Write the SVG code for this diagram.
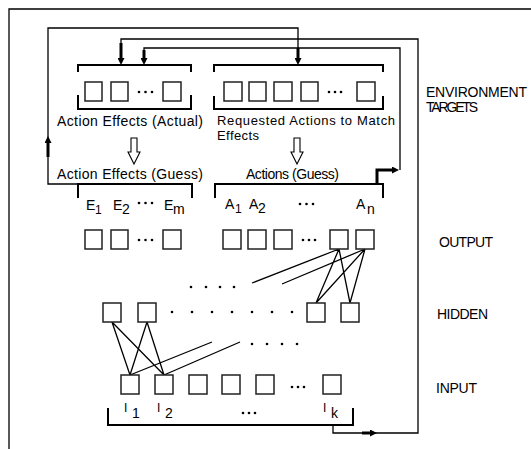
<svg xmlns="http://www.w3.org/2000/svg" width="531" height="449" viewBox="0 0 531 449">
<defs>
<marker id="ah" viewBox="0 0 10 10" refX="0" refY="5" markerWidth="8" markerHeight="7" markerUnits="userSpaceOnUse" orient="auto">
<path d="M0,0 L10,5 L0,10 z" fill="#000"/>
</marker>
<style>
.ln{fill:none;stroke:#000;stroke-width:1.3}
.br{fill:none;stroke:#000;stroke-width:2}
.th{fill:none;stroke:#000;stroke-width:3}
.bx{fill:#fff;stroke:#222;stroke-width:1.5}
.ha{fill:#fff;stroke:#000;stroke-width:1.1}
.dot{fill:#000}
text{font-family:"Liberation Sans",Arial,sans-serif;font-size:14px;fill:#000}
.sm{font-size:12px}
.rq{font-size:13px}
</style>
</defs>
<rect width="531" height="449" fill="#fff"/>
<path class="ln" d="M9,449 V9 H531" stroke="#333"/>

<g id="connectors">
<path class="ln" d="M78,184 H48 V28 H298 V50"/>
<path class="th" d="M48,157 V143" marker-end="url(#ah)"/>
<path class="th" d="M298,48 V58" marker-end="url(#ah)"/>
<path class="ln" d="M333,425 V433 H418 V39 H121 V45"/>
<path class="th" d="M121,43 V58" marker-end="url(#ah)"/>
<path class="th" d="M362,433 H370" marker-end="url(#ah)"/>
<path class="ln" d="M400,170 V48 H144 V50"/>
<path class="th" d="M377,184 V170 H392" marker-end="url(#ah)"/>
<path class="th" d="M144,50 V58" marker-end="url(#ah)"/>
<path class="ha" d="M131,138 H137 V152 H140 L134,164 L128,152 H131 Z"/>
<path class="ha" d="M294,138 H300 V152 H303 L297,164 L291,152 H294 Z"/>
<path class="ln" d="M339,249 L252,283 M365,249 L282,284 M339,249 L316,303 M339,249 L350,303 M365,249 L316,303 M365,249 L350,303"/>
<path class="ln" d="M112,322 L130,375 M112,322 L164,375 M147,322 L130,375 M147,322 L164,375 M130,375 L212,342 M164,375 L240,342"/>
</g>

<g id="actual-effects">
<path class="br" d="M78,72 V65 H191 V72 M78,95 V109 H191 V95"/>
<rect class="bx" x="85" y="82" width="17" height="19"/>
<rect class="bx" x="111" y="82" width="17" height="19"/>
<rect class="bx" x="163" y="82" width="18" height="19"/>
<circle class="dot" cx="139" cy="92" r="1.3"/><circle class="dot" cx="145.5" cy="92" r="1.3"/><circle class="dot" cx="152" cy="92" r="1.3"/>
<text x="57" y="126" textLength="146" lengthAdjust="spacing">Action Effects (Actual)</text>
</g>

<g id="requested-actions">
<path class="br" d="M214,72 V65 H383 V72 M214,96 V109 H383 V96"/>
<rect class="bx" x="224" y="82" width="18" height="19"/>
<rect class="bx" x="249" y="82" width="17" height="19"/>
<rect class="bx" x="274" y="82" width="18" height="19"/>
<rect class="bx" x="301" y="82" width="17" height="19"/>
<rect class="bx" x="357" y="82" width="18" height="19"/>
<circle class="dot" cx="329" cy="92" r="1.3"/><circle class="dot" cx="335" cy="92" r="1.3"/><circle class="dot" cx="341" cy="92" r="1.3"/>
<text x="217" y="125" class="rq" textLength="178" lengthAdjust="spacing">Requested Actions to Match</text>
<text x="217" y="140" class="rq" textLength="42" lengthAdjust="spacing">Effects</text>
</g>

<g id="env-label">
<text x="426" y="97" font-size="13" textLength="101" lengthAdjust="spacing">ENVIRONMENT</text>
<text x="426" y="112" font-size="13" textLength="52" lengthAdjust="spacing">TARGETS</text>
</g>

<g id="effects-guess">
<path class="br" d="M78,198 V184 H192 V198"/>
<text x="57" y="179" textLength="146" lengthAdjust="spacing">Action Effects (Guess)</text>
<text x="86" y="210">E</text><text x="95" y="214" class="sm">1</text>
<text x="113" y="210">E</text><text x="122" y="214">2</text>
<circle class="dot" cx="139" cy="203" r="1.3"/><circle class="dot" cx="145.5" cy="203" r="1.3"/><circle class="dot" cx="152" cy="203" r="1.3"/>
<text x="164" y="210">E</text><text x="173" y="214">m</text>
</g>

<g id="actions-guess">
<path class="br" d="M215,198 V184 H383 V198"/>
<text x="246" y="179" textLength="93" lengthAdjust="spacing">Actions (Guess)</text>
<text x="225" y="209">A</text><text x="235" y="213" class="sm">1</text>
<text x="249" y="209">A</text><text x="258" y="213">2</text>
<circle class="dot" cx="300" cy="204" r="1.3"/><circle class="dot" cx="306.5" cy="204" r="1.3"/><circle class="dot" cx="313" cy="204" r="1.3"/>
<text x="356" y="209">A</text><text x="367" y="214">n</text>
</g>

<g id="output">
<rect class="bx" x="85" y="230" width="17" height="19"/>
<rect class="bx" x="111" y="230" width="17" height="19"/>
<rect class="bx" x="163" y="230" width="18" height="19"/>
<circle class="dot" cx="139" cy="240" r="1.3"/><circle class="dot" cx="145.5" cy="240" r="1.3"/><circle class="dot" cx="152" cy="240" r="1.3"/>
<rect class="bx" x="223" y="230" width="18" height="19"/>
<rect class="bx" x="248" y="230" width="18" height="19"/>
<rect class="bx" x="274" y="230" width="18" height="19"/>
<rect class="bx" x="330" y="230" width="18" height="19"/>
<rect class="bx" x="356" y="230" width="18" height="19"/>
<circle class="dot" cx="303" cy="240" r="1.3"/><circle class="dot" cx="309" cy="240" r="1.3"/><circle class="dot" cx="315" cy="240" r="1.3"/>
<text x="439" y="247" textLength="54" lengthAdjust="spacing">OUTPUT</text>
</g>

<g id="hidden">
<rect class="bx" x="103" y="303" width="18" height="19"/>
<rect class="bx" x="138" y="303" width="18" height="19"/>
<rect class="bx" x="307" y="303" width="18" height="19"/>
<rect class="bx" x="341" y="303" width="18" height="19"/>
<g class="dot">
<circle cx="172" cy="312" r="1.3"/><circle cx="192" cy="312" r="1.3"/><circle cx="212" cy="312" r="1.3"/><circle cx="232" cy="312" r="1.3"/><circle cx="252" cy="312" r="1.3"/><circle cx="272" cy="312" r="1.3"/><circle cx="292" cy="312" r="1.3"/>
<circle cx="191" cy="287" r="1.3"/><circle cx="206" cy="287" r="1.3"/><circle cx="220" cy="287" r="1.3"/><circle cx="234" cy="287" r="1.3"/>
<circle cx="252" cy="344" r="1.3"/><circle cx="267" cy="344" r="1.3"/><circle cx="282" cy="344" r="1.3"/><circle cx="297" cy="344" r="1.3"/>
</g>
<text x="437" y="319" textLength="51" lengthAdjust="spacing">HIDDEN</text>
</g>

<g id="input">
<rect class="bx" x="121" y="375" width="18" height="19"/>
<rect class="bx" x="155" y="375" width="18" height="19"/>
<rect class="bx" x="189" y="375" width="18" height="19"/>
<rect class="bx" x="222" y="375" width="18" height="19"/>
<rect class="bx" x="256" y="375" width="18" height="19"/>
<rect class="bx" x="323" y="375" width="18" height="19"/>
<circle class="dot" cx="292" cy="387" r="1.3"/><circle class="dot" cx="298" cy="387" r="1.3"/><circle class="dot" cx="304" cy="387" r="1.3"/>
<path class="br" d="M108,408 V425 H353 V408"/>
<text x="124" y="412" class="sm">I</text><text x="132" y="418">1</text>
<text x="157" y="412" class="sm">I</text><text x="165" y="418">2</text>
<circle class="dot" cx="243" cy="413" r="1.3"/><circle class="dot" cx="249" cy="413" r="1.3"/><circle class="dot" cx="255" cy="413" r="1.3"/>
<text x="323" y="412" class="sm">I</text><text x="331" y="418">k</text>
<text x="436" y="393" textLength="41" lengthAdjust="spacing">INPUT</text>
</g>
</svg>
